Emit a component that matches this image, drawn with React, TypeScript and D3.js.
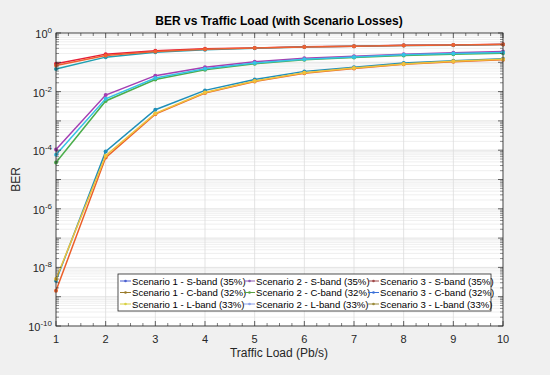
import React from 'react';
import * as d3 from 'd3';

const loads = [1, 2, 3, 4, 5, 6, 7, 8, 9, 10];

const seriesNames = [
  'Scenario 1 - S-band (35%)',
  'Scenario 1 - C-band (32%)',
  'Scenario 1 - L-band (33%)',
  'Scenario 2 - S-band (35%)',
  'Scenario 2 - C-band (32%)',
  'Scenario 2 - L-band (33%)',
  'Scenario 3 - S-band (35%)',
  'Scenario 3 - C-band (32%)',
  'Scenario 3 - L-band (33%)',
];

const s1S = [3.5e-9, 9e-5, 2.4e-3, 0.011, 0.026, 0.049, 0.068, 0.094, 0.113, 0.132];
const s1C = [1.6e-9, 5.6e-5, 1.7e-3, 0.0089, 0.022, 0.042, 0.062, 0.085, 0.105, 0.122];
const s1L = [4e-9, 6.5e-5, 1.8e-3, 0.0093, 0.023, 0.044, 0.064, 0.088, 0.108, 0.126];
const s2S = [1.05e-4, 7.6e-3, 0.035, 0.068, 0.104, 0.138, 0.162, 0.19, 0.21, 0.235];
const s2C = [3.8e-5, 4.8e-3, 0.026, 0.056, 0.089, 0.122, 0.146, 0.172, 0.19, 0.205];
const s2L = [7e-5, 5.7e-3, 0.029, 0.06, 0.094, 0.128, 0.152, 0.18, 0.198, 0.215];
const s3S = [0.089, 0.19, 0.25, 0.29, 0.31, 0.34, 0.355, 0.38, 0.39, 0.41];
const s3C = [0.059, 0.15, 0.22, 0.27, 0.3, 0.33, 0.35, 0.375, 0.385, 0.405];
const s3L = [0.078, 0.17, 0.235, 0.28, 0.305, 0.335, 0.352, 0.378, 0.388, 0.408];

const seriesValues = [s1S, s1C, s1L, s2S, s2C, s2L, s3S, s3C, s3L];

const lineColors = ['#1f8fb8', '#ec5f2a', '#eec23c', '#a43fb2', '#4cae4c', '#35c2e6', '#e51e36', '#1f9fb0', '#f06030'];
const legendColors = ['#4a5fd0', '#9a7a2a', '#d8d040', '#8a5ab0', '#5aa040', '#8aa0e8', '#a04848', '#3a70d8', '#9a8a3a'];

const yTickExps = [0, -2, -4, -6, -8, -10];

const W = 550;
const H = 375;
const L = 56;
const R = 503;
const T = 33;
const B = 326;

export default function App() {
  const x = d3.scaleLinear().domain([1, 10]).range([L, R]);
  const y = d3.scaleLog().domain([1e-10, 1]).range([B, T]);

  const line = d3
    .line<number>()
    .x((_, i) => x(loads[i]))
    .y((d) => y(d));

  const minorY: number[] = [];
  for (let e = -10; e < 0; e++) {
    for (let m = 2; m <= 9; m++) minorY.push(m * Math.pow(10, e));
  }
  const allDecades = d3.range(-10, 1).map((e) => Math.pow(10, e));
  const minorX = d3.range(1, 10.001, 0.25).filter((v) => Math.abs(v - Math.round(v)) > 1e-6);

  const font = 'Liberation Sans, Arial, Helvetica, sans-serif';
  const axisColor = '#262626';

  const legX = 118;
  const legY = 274;
  const legW = 373;
  const legH = 37;
  const colX = [120, 244, 368];

  return (
    <svg width={W} height={H} style={{ position: 'absolute', left: 0, top: 0 }} fontFamily={font}>
      <rect x={0} y={0} width={W} height={H} fill="#f0f0f0" />
      <rect x={L} y={T} width={R - L} height={B - T} fill="#ffffff" />

      {/* minor grid */}
      {minorY.map((v, i) => (
        <line key={'mg' + i} x1={L} x2={R} y1={y(v)} y2={y(v)} stroke="#e4e4e4" strokeWidth={0.6} />
      ))}
      {allDecades.map((v, i) => (
        <line key={'dg' + i} x1={L} x2={R} y1={y(v)} y2={y(v)} stroke="#dcdcdc" strokeWidth={0.8} />
      ))}
      {loads.map((v) => (
        <line key={'xg' + v} x1={x(v)} x2={x(v)} y1={T} y2={B} stroke="#dcdcdc" strokeWidth={0.8} />
      ))}

      {/* series */}
      {seriesValues.map((vals, s) => (
        <g key={'s' + s}>
          <path d={line(vals) || ''} fill="none" stroke={lineColors[s]} strokeWidth={1.5} />
          {vals.map((v, i) => (
            <circle key={i} cx={x(loads[i])} cy={y(v)} r={2} fill={lineColors[s]} />
          ))}
        </g>
      ))}

      {/* box */}
      <rect x={L} y={T} width={R - L} height={B - T} fill="none" stroke={axisColor} strokeWidth={0.8} />

      {/* x ticks */}
      {loads.map((v) => (
        <g key={'xt' + v}>
          <line x1={x(v)} x2={x(v)} y1={B} y2={B - 5} stroke={axisColor} strokeWidth={0.7} />
          <line x1={x(v)} x2={x(v)} y1={T} y2={T + 5} stroke={axisColor} strokeWidth={0.7} />
          <text x={x(v)} y={B + 17} textAnchor="middle" fontSize={11} fill={axisColor}>
            {v}
          </text>
        </g>
      ))}
      {minorX.map((v, i) => (
        <g key={'xm' + i}>
          <line x1={x(v)} x2={x(v)} y1={B} y2={B - 3} stroke={axisColor} strokeWidth={0.6} />
          <line x1={x(v)} x2={x(v)} y1={T} y2={T + 3} stroke={axisColor} strokeWidth={0.6} />
        </g>
      ))}

      {/* y ticks */}
      {minorY.map((v, i) => (
        <g key={'ym' + i}>
          <line x1={L} x2={L + 3} y1={y(v)} y2={y(v)} stroke={axisColor} strokeWidth={0.5} />
          <line x1={R} x2={R - 3} y1={y(v)} y2={y(v)} stroke={axisColor} strokeWidth={0.5} />
        </g>
      ))}
      {allDecades.map((v, i) => (
        <g key={'yd' + i}>
          <line x1={L} x2={L + 5} y1={y(v)} y2={y(v)} stroke={axisColor} strokeWidth={0.7} />
          <line x1={R} x2={R - 5} y1={y(v)} y2={y(v)} stroke={axisColor} strokeWidth={0.7} />
        </g>
      ))}
      {yTickExps.map((e) => (
        <text key={'yl' + e} x={L - 4} y={y(Math.pow(10, e)) + 5} textAnchor="end" fontSize={11} fill={axisColor}>
          10
          <tspan dy={-5} fontSize={8}>
            {e}
          </tspan>
        </text>
      ))}

      {/* labels */}
      <text x={279} y={25} textAnchor="middle" fontSize={12} fontWeight="bold" fill="#000">
        BER vs Traffic Load (with Scenario Losses)
      </text>
      <text x={279} y={357} textAnchor="middle" fontSize={12} fill={axisColor}>
        Traffic Load (Pb/s)
      </text>
      <text transform={`translate(20, ${(T + B) / 2}) rotate(-90)`} textAnchor="middle" fontSize={12} fill={axisColor}>
        BER
      </text>

      {/* legend */}
      <rect x={legX} y={legY} width={legW} height={legH} fill="#ffffff" stroke={axisColor} strokeWidth={0.8} />
      {seriesNames.map((name, s) => {
        const col = Math.floor(s / 3);
        const row = s % 3;
        const cy = legY + 7 + row * 11.5;
        const lx = colX[col];
        return (
          <g key={'lg' + s}>
            <line x1={lx} x2={lx + 11} y1={cy} y2={cy} stroke={legendColors[s]} strokeWidth={1} />
            <circle cx={lx + 5.5} cy={cy} r={1.3} fill={legendColors[s]} />
            <text x={lx + 12} y={cy + 3.5} fontSize={9.6} fill="#000">
              {name}
            </text>
          </g>
        );
      })}
    </svg>
  );
}
